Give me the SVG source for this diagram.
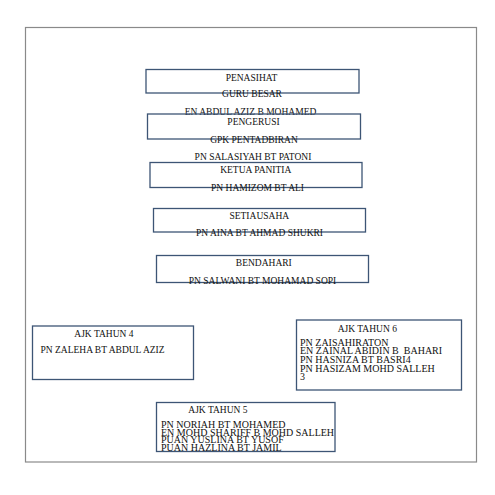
<svg xmlns="http://www.w3.org/2000/svg" width="495" height="495" viewBox="0 0 495 495">
<style>
.frame{fill:none;stroke:#8a8a8a;stroke-width:1.2}
.box{fill:none;stroke:#3d5575;stroke-width:1.3}
text{font-family:"Liberation Serif","Times New Roman",serif;font-size:9.5px;fill:#111}
.c{text-anchor:middle}
.l{font-size:10px}
</style>
<rect width="495" height="495" fill="#ffffff"/>
<rect class="frame" x="25.5" y="27.5" width="451" height="434.5"/>
<g id="connectors"></g>
<g id="penasihat">
<rect class="box" x="146" y="69.5" width="213" height="23.5"/>
<text class="c" x="251.5" y="80.5">PENASIHAT</text>
<text class="c" x="252" y="96.5">GURU BESAR</text>
<text class="c" x="250.5" y="114.5">EN ABDUL AZIZ B MOHAMED</text>
</g>
<g id="pengerusi">
<rect class="box" x="147.5" y="114" width="213" height="25"/>
<text class="c" x="253.5" y="124.5">PENGERUSI</text>
<text class="c" x="254" y="142.5">GPK PENTADBIRAN</text>
<text class="c" x="253" y="160">PN SALASIYAH BT PATONI</text>
</g>
<g id="ketua">
<rect class="box" x="150" y="162.5" width="212" height="25"/>
<text class="c" x="255.8" y="173.3">KETUA PANITIA</text>
<text class="c" x="257.5" y="190.6">PN HAMIZOM BT ALI</text>
</g>
<g id="setiausaha">
<rect class="box" x="153.5" y="208.5" width="212" height="23.5"/>
<text class="c" x="259.3" y="219.3">SETIAUSAHA</text>
<text class="c" x="259.5" y="235.6">PN AINA BT AHMAD SHUKRI</text>
</g>
<g id="bendahari">
<rect class="box" x="156.5" y="255.5" width="212" height="27"/>
<text class="c" x="263.8" y="266">BENDAHARI</text>
<text class="c" x="262.5" y="284.3">PN SALWANI BT MOHAMAD SOPI</text>
</g>
<g id="ajk4">
<rect class="box" x="32.5" y="326" width="161" height="53.5"/>
<text x="74.3" y="336.6">AJK TAHUN 4</text>
<text x="40.5" y="352.6">PN ZALEHA BT ABDUL AZIZ</text>
</g>
<g id="ajk6">
<rect class="box" x="296.5" y="320" width="165" height="70"/>
<text x="337.7" y="331.6">AJK TAHUN 6</text>
<text class="l" x="300" y="345.5">PN ZAISAHIRATON</text>
<text class="l" x="300" y="354" xml:space="preserve">EN ZAINAL ABIDIN B  BAHARI</text>
<text class="l" x="300" y="362.8">PN HASNIZA BT BASRI4</text>
<text class="l" x="300" y="371.5">PN HASIZAM MOHD SALLEH</text>
<text class="l" x="300" y="379.8">3</text>
</g>
<g id="ajk5">
<rect class="box" x="156.5" y="402.5" width="178.5" height="49"/>
<text x="188.3" y="413.3">AJK TAHUN 5</text>
<text class="l" x="161" y="427.6">PN NORIAH BT MOHAMED</text>
<text class="l" x="161" y="435.6">EN MOHD SHARIFF B MOHD SALLEH</text>
<text class="l" x="161" y="443.3">PUAN YUSLINA BT YUSOF</text>
<text class="l" x="161" y="451">PUAN HAZLINA BT JAMIL</text>
</g>
</svg>
